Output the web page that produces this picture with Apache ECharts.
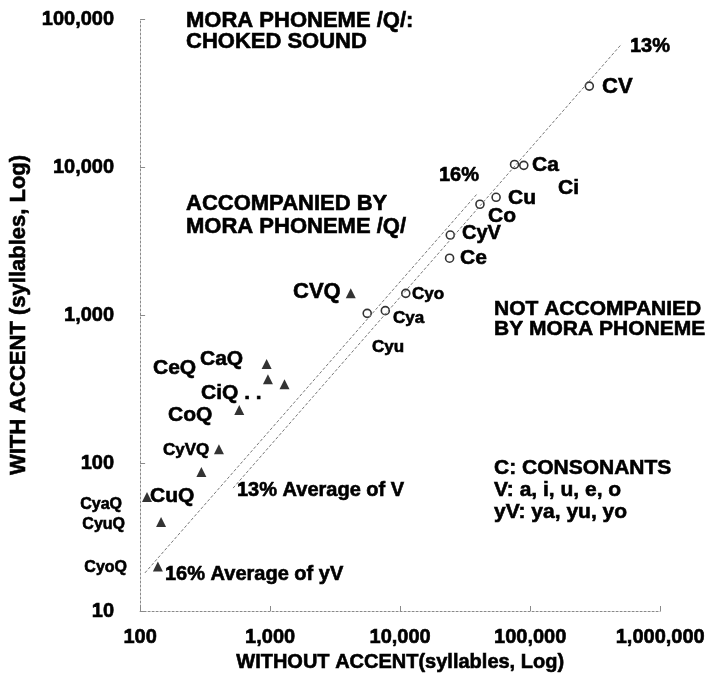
<!DOCTYPE html>
<html>
<head>
<meta charset="utf-8">
<script src="https://cdn.jsdelivr.net/npm/echarts@6/dist/echarts.min.js"></script>
<style>
html,body{margin:0;padding:0;background:#fff;}
#chart{width:708px;height:686px;}
</style>
</head>
<body>
<div id="chart"></div>
<script>
// ---- data ----
// syllables without accent (x) and with accent (y)
var circleNames = ['CV', 'Ca', 'Ci', 'Cu', 'Co', 'CyV', 'Ce', 'Cyo', 'Cya', 'Cyu'];
var circleX = [285000, 75800, 89300, 54700, 41100, 24300, 24000, 11050, 7690, 5580];
var circleY = [35200, 10400, 10260, 6240, 5600, 3470, 2420, 1400, 1070, 1026];

var triangleNames = ['CVQ', 'CaQ', 'CiQ', 'CeQ', 'CoQ', 'CyVQ', 'CuQ', 'CyaQ', 'CyuQ', 'CyoQ'];
var triangleX = [4170, 940, 962, 1290, 579, 404, 296, 113, 145, 137];
var triangleY = [1400, 467, 368, 340, 228, 124, 87, 59, 40, 20];

// average ratio reference lines (end points)
var line13X = [519, 505000];
var line13Y = [67.7, 67800];
var line16X = [109, 39400];
var line16Y = [18.1, 6640];

var xTickLabels = ['100', '1,000', '10,000', '100,000', '1,000,000'];
var yTickLabels = ['10', '100', '1,000', '10,000', '100,000'];

// ---- annotations ----
var annotations = [
  ['MORA PHONEME /Q/:', 186, 21, 22, 'left'],
  ['CHOKED SOUND', 186, 42, 22, 'left'],
  ['13%', 630, 46, 20, 'left'],
  ['CV', 602, 87, 22, 'left'],
  ['Ca', 532, 165, 21, 'left'],
  ['Ci', 558, 188, 21, 'left'],
  ['16%', 439, 175, 20, 'left'],
  ['Cu', 508, 198, 21, 'left'],
  ['Co', 488, 216, 21, 'left'],
  ['CyV', 462, 233, 20, 'left'],
  ['Ce', 460, 258, 21, 'left'],
  ['ACCOMPANIED BY', 186, 204, 22, 'left'],
  ['MORA PHONEME /Q/', 186, 227, 22, 'left'],
  ['CVQ', 293, 292, 22, 'left'],
  ['Cyo', 412, 294, 17, 'left'],
  ['Cya', 393, 318, 17, 'left'],
  ['Cyu', 372, 347, 17, 'left'],
  ['NOT ACCOMPANIED', 494, 309, 21, 'left'],
  ['BY MORA PHONEME', 494, 329, 21, 'left'],
  ['CeQ', 153, 368, 21, 'left'],
  ['CaQ', 200, 359, 21, 'left'],
  ['CiQ . .', 201, 393, 21, 'left'],
  ['CoQ', 168, 415, 21, 'left'],
  ['CyVQ', 163, 450, 17, 'left'],
  ['CuQ', 150, 496, 21, 'left'],
  ['CyaQ', 122, 505, 16, 'right'],
  ['CyuQ', 125, 525, 16, 'right'],
  ['CyoQ', 127, 568, 16, 'right'],
  ['13% Average of V', 237, 490, 20, 'left'],
  ['16% Average of yV', 165, 574, 20, 'left'],
  ['C: CONSONANTS', 494, 468, 21, 'left'],
  ['V: a, i, u, e, o', 494, 490, 21, 'left'],
  ['yV: ya, yu, yo', 494, 512, 21, 'left']
];

var FONT = '"Liberation Sans", Arial, sans-serif';
var HEAVY = 0.6; // extra stroke to mimic the heavy bold of the reference

function zip(xs, ys) { return xs.map(function (x, i) { return [x, ys[i]]; }); }
function decadeLabel(labels, base) {
  return function (v) {
    var i = Math.round(Math.log10(v)) - base;
    return labels[i] !== undefined ? labels[i] : '';
  };
}

var chart = echarts.init(document.getElementById('chart'), null, {renderer: 'canvas'});

var axisLineStyle = {color: '#8a8a8a', width: 1, type: [2, 2]};
var boldText = {fontFamily: FONT, fontWeight: 'bold', color: '#000',
  textBorderColor: '#000', textBorderWidth: HEAVY};

chart.setOption({
  animation: false,
  backgroundColor: '#fff',
  grid: {left: 138, right: 44, top: 19, bottom: 75, containLabel: false},
  xAxis: {
    type: 'log', logBase: 10, min: 100, max: 1000000,
    name: 'WITHOUT ACCENT(syllables, Log)',
    nameLocation: 'middle', nameGap: 41,
    nameTextStyle: Object.assign({fontSize: 20}, boldText),
    axisLine: {show: true, lineStyle: axisLineStyle},
    axisTick: {show: true, inside: true, length: 5, lineStyle: {color: '#8a8a8a'}},
    minorTick: {show: false},
    splitLine: {show: false},
    axisLabel: Object.assign({margin: 16, fontSize: 20,
      formatter: decadeLabel(xTickLabels, 2)}, boldText)
  },
  yAxis: {
    type: 'log', logBase: 10, min: 10, max: 100000,
    name: 'WITH ACCENT (syllables, Log)',
    nameLocation: 'middle', nameGap: 106, nameRotate: 90,
    nameTextStyle: Object.assign({fontSize: 22}, boldText),
    axisLine: {show: true, lineStyle: axisLineStyle},
    axisTick: {show: true, inside: true, length: 5, lineStyle: {color: '#8a8a8a'}},
    splitLine: {show: false},
    axisLabel: Object.assign({margin: 26, fontSize: 20,
      formatter: decadeLabel(yTickLabels, 1)}, boldText)
  },
  series: [
    {
      type: 'line', data: zip(line13X, line13Y), symbol: 'none', silent: true,
      lineStyle: {color: '#777', width: 1, type: [3, 2]}
    },
    {
      type: 'line', data: zip(line16X, line16Y), symbol: 'none', silent: true,
      lineStyle: {color: '#777', width: 1, type: [3, 2]}
    },
    {
      type: 'scatter', name: 'plain', data: zip(circleX, circleY),
      symbol: 'circle', symbolSize: 8,
      itemStyle: {color: '#fff', borderColor: '#000', borderWidth: 1.6}
    },
    {
      type: 'scatter', name: 'Q', data: zip(triangleX, triangleY),
      symbol: 'triangle', symbolSize: 10,
      itemStyle: {color: '#000'}
    }
  ],
  graphic: annotations.map(function (a) {
    return {
      type: 'text', x: a[1], y: a[2], silent: true,
      style: {text: a[0], fill: '#000', font: 'bold ' + a[3] + 'px ' + FONT,
        align: a[4], verticalAlign: 'middle', stroke: '#000', lineWidth: HEAVY}
    };
  })
});
</script>
</body>
</html>
